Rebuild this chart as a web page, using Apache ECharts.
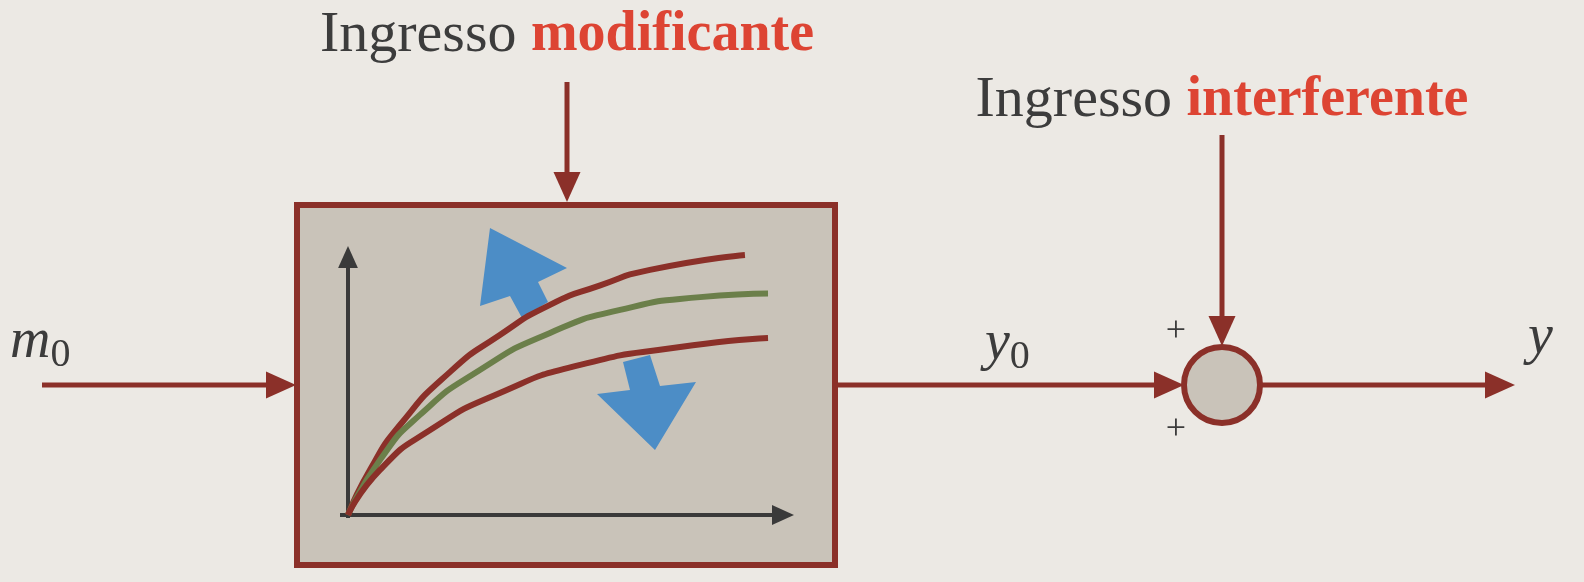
<!DOCTYPE html>
<html>
<head>
<meta charset="utf-8" />
<script src="https://cdn.jsdelivr.net/npm/echarts@6/dist/echarts.min.js"></script>
</head>
<body style="margin:0;background:#ECE9E4">
<div id="main" style="width:1584px;height:582px"></div>
<script>
// curve points (x, y in 0..100 of the inner plot)
var upperCurve = [[0,0],[5,17],[11.7,33.7],[23,53.6],[34.2,67.4],[45.5,78.7],[56.8,86],[68,91.8],[89.4,97.4]];
var middleCurve = [[0,0],[7.2,20.6],[16.2,37.5],[29.7,54.3],[45.5,68.2],[61.3,76.8],[79.3,81.6],[94.6,83]];
var lowerCurve = [[0,0],[7.2,16.9],[18.5,31.8],[34.2,45.7],[52.3,56.2],[74.8,62.9],[94.6,66.3]];

var RED = '#8B3029', TXT = '#3c3c3c', HI = '#DD4433', FILL = '#C9C3B9', BLUE = '#4C8DC6';
var myChart = echarts.init(document.getElementById('main'));

function arrow(x1, y1, x2, y2, color, w, head) {
  var dx = x2 - x1, dy = y2 - y1, L = Math.sqrt(dx * dx + dy * dy);
  var ux = dx / L, uy = dy / L, hl = head || 28, hw = hl * 0.45;
  var bx = x2 - ux * hl, by = y2 - uy * hl;
  return [
    { type: 'line', shape: { x1: x1, y1: y1, x2: bx, y2: by }, style: { stroke: color, lineWidth: w } },
    { type: 'polygon', shape: { points: [[x2, y2], [bx - uy * hw, by + ux * hw], [bx + uy * hw, by - ux * hw]] }, style: { fill: color } }
  ];
}

var g = [];
g.push({ type: 'rect', z: -1, shape: { x: 297, y: 205, width: 538, height: 360 }, style: { fill: FILL, stroke: RED, lineWidth: 6 } });
// blue arrows
g.push({ type: 'polygon', shape: { points: [[490,228],[567,268],[538,282],[548,302],[522,318],[510,296],[480,306]] }, style: { fill: BLUE } });
g.push({ type: 'polygon', shape: { points: [[655,450],[597,394],[630,390],[623,362],[650,355],[660,386],[696,382]] }, style: { fill: BLUE } });
g = g.concat(arrow(348, 518, 348, 246, '#3a3a3a', 4, 22));
g = g.concat(arrow(340, 515, 794, 515, '#3a3a3a', 4, 22));
g = g.concat(arrow(567, 82, 567, 202, RED, 5, 30));
g = g.concat(arrow(42, 385, 296, 385, RED, 5, 30));
g = g.concat(arrow(835, 385, 1184, 385, RED, 5, 30));
g = g.concat(arrow(1222, 135, 1222, 346, RED, 5, 30));
g = g.concat(arrow(1261, 385, 1515, 385, RED, 5, 30));
g.push({ type: 'circle', shape: { cx: 1222, cy: 385, r: 38 }, style: { fill: FILL, stroke: RED, lineWidth: 6 } });

var serif = 'Liberation Serif';
var richT = { a: { fill: TXT, fontSize: 58, fontFamily: serif }, b: { fill: HI, fontSize: 56, fontWeight: 'bold', fontFamily: serif } };
g.push({ type: 'text', style: { x: 567, y: 36, text: '{a|Ingresso }{b|modificante}', align: 'center', verticalAlign: 'middle', rich: richT } });
g.push({ type: 'text', style: { x: 1222, y: 101, text: '{a|Ingresso }{b|interferente}', align: 'center', verticalAlign: 'middle', rich: richT } });
var richS = { a: { fill: TXT, fontSize: 56, fontStyle: 'italic', fontFamily: serif }, b: { fill: TXT, fontSize: 40, fontFamily: serif, padding: [26, 0, 0, 0] } };
g.push({ type: 'text', style: { x: 10, y: 342, text: '{a|m}{b|0}', verticalAlign: 'middle', rich: richS } });
g.push({ type: 'text', style: { x: 985, y: 344, text: '{a|y}{b|0}', verticalAlign: 'middle', rich: richS } });
g.push({ type: 'text', style: { x: 1528, y: 338, text: 'y', verticalAlign: 'middle', fill: TXT, fontSize: 56, fontStyle: 'italic', fontFamily: serif } });
g.push({ type: 'text', style: { x: 1176, y: 332, text: '+', align: 'center', verticalAlign: 'middle', fill: TXT, fontSize: 36, fontFamily: serif } });
g.push({ type: 'text', style: { x: 1176, y: 430, text: '+', align: 'center', verticalAlign: 'middle', fill: TXT, fontSize: 36, fontFamily: serif } });

function curve(data, color) {
  return { type: 'line', data: data, smooth: 0.6, symbol: 'none', z: 5,
    lineStyle: { color: color, width: 6 } };
}

var option = {
  backgroundColor: '#ECE9E4',
  animation: false,
  grid: { left: 348, top: 248, width: 444, height: 267 },
  xAxis: { type: 'value', min: 0, max: 100, show: false },
  yAxis: { type: 'value', min: 0, max: 100, show: false },
  graphic: { elements: g },
  series: [curve(upperCurve, RED), curve(middleCurve, '#6B7F4A'), curve(lowerCurve, RED)]
};
myChart.setOption(option);
</script>
</body>
</html>
